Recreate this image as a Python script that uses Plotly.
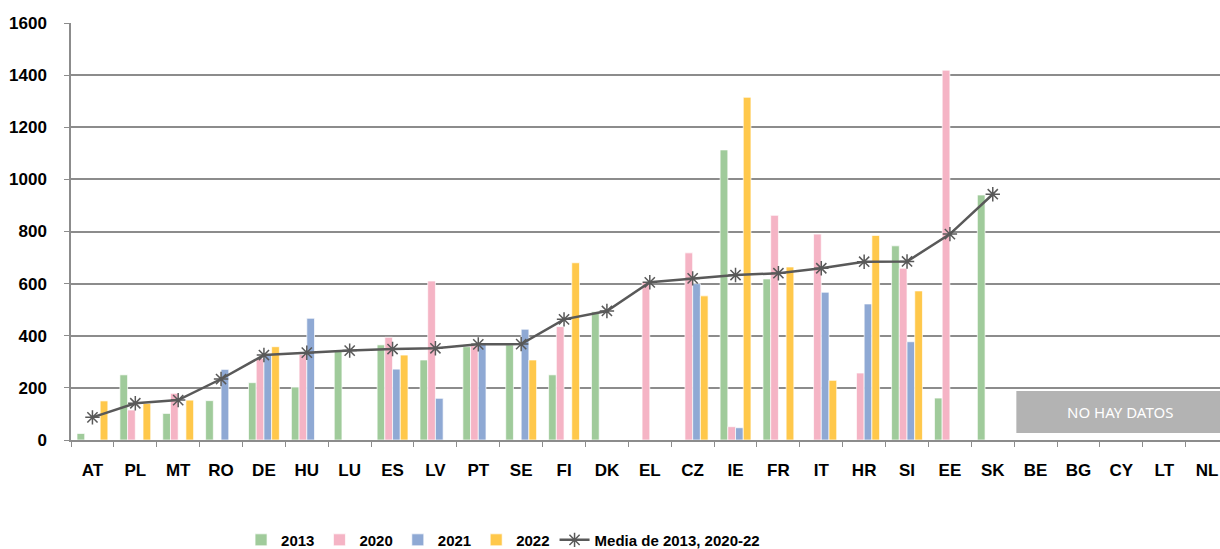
import plotly.graph_objects as go

categories = ["AT", "PL", "MT", "RO", "DE", "HU", "LU", "ES", "LV", "PT", "SE", "FI", "DK", "EL",
              "CZ", "IE", "FR", "IT", "HR", "SI", "EE", "SK", "BE", "BG", "CY", "LT", "NL"]
N = None
v2013 = [25, 250, 102, 151, 220, 203, 340, 365, 307, 358, 365, 250, 492, N,
         N, 1113, 618, N, N, 745, 161, 940, N, N, N, N, N]
v2020 = [N, 115, 179, N, 313, 328, N, 394, 610, 362, N, 435, N, 605,
         718, 51, 862, 790, 257, 659, 1419, N, N, N, N, N, N]
v2021 = [N, N, N, 271, 326, 467, N, 272, 160, 368, 425, N, N, N,
         600, 47, N, 567, 522, 377, N, N, N, N, N, N, N]
v2022 = [150, 140, 153, N, 358, N, N, 326, N, N, 307, 680, N, N,
         553, 1315, 664, 229, 785, 572, N, N, N, N, N, N, N]
media = [87, 141, 153, 234, 326, 335, 343, 349, 352, 367, 368, 463, 495, 605,
         620, 633, 640, 659, 684, 685, 790, 943, N, N, N, N, N]

series = [("2013", v2013, "#A0CB9B"), ("2020", v2020, "#F5B4C5"),
          ("2021", v2021, "#8FA9D4"), ("2022", v2022, "#FFC84B")]

FONT = "Liberation Sans"
fig = go.Figure()
for name, vals, col in series:
    fig.add_trace(go.Bar(x=categories, y=vals, name=name,
                         marker=dict(color=col, line=dict(color="white", width=0.7))))
fig.add_trace(go.Scatter(x=categories, y=media, name="Media de 2013, 2020-22", mode="lines+markers",
                         line=dict(color="#595959", width=2.5),
                         marker=dict(symbol="asterisk-open", size=12, color="#595959",
                                     line=dict(color="#595959", width=1.5))))

# "no data" box
fig.add_shape(type="rect", xref="x", yref="y", x0=21.55, x1=27, y0=27, y1=188,
              fillcolor="#B3B3B3", line=dict(width=0), layer="above")
fig.add_annotation(xref="x", yref="y", x=23.97, y=107, text="NO HAY DATOS", showarrow=False,
                   font=dict(family="Noto Sans", size=15, color="white"))

fig.update_layout(
    width=1220, height=549,
    margin=dict(l=71, r=0, t=23, b=109, autoexpand=False),
    paper_bgcolor="white", plot_bgcolor="white",
    barmode="group", bargap=0.28, bargroupgap=0,
    font=dict(family=FONT, size=17, color="black"),
    legend=dict(orientation="h", x=0.148, xanchor="left", y=-0.24, yanchor="middle",
                font=dict(family=FONT, size=15, weight="bold"),
                itemwidth=30, traceorder="normal"),
    showlegend=True,
)
fig.update_xaxes(type="category", range=[-0.5, 26.3], showline=True, linecolor="#8C8C8C",
                 linewidth=1.5, ticks="outside", tickson="boundaries", ticklen=5,
                 tickcolor="#8C8C8C", showgrid=False, ticklabelstandoff=14,
                 tickfont=dict(family=FONT, size=17, weight="bold", color="black"))
fig.update_yaxes(range=[0, 1600], dtick=200, showline=True, linecolor="#8C8C8C", linewidth=1.5,
                 ticks="outside", ticklen=5, tickcolor="#8C8C8C", gridcolor="#8C8C8C",
                 gridwidth=1.5, zeroline=False, ticklabelstandoff=14,
                 tickfont=dict(family=FONT, size=17, weight="bold", color="black"))

fig.write_html("out.html", config={"displayModeBar": False},
               post_script="document.body.style.margin='0';document.body.style.overflow='hidden';")
